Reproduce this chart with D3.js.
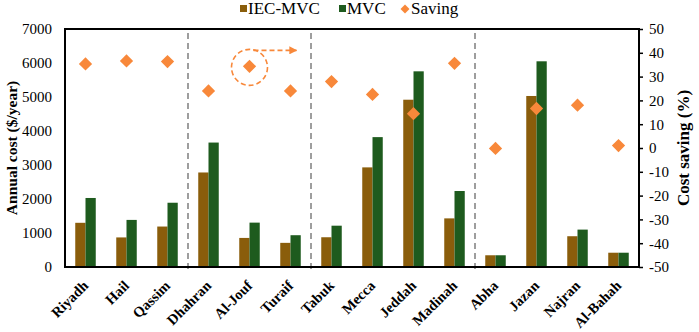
<!DOCTYPE html>
<html>
<head>
<meta charset="utf-8">
<script src="https://cdn.jsdelivr.net/npm/d3@7"></script>
<style>
  body { margin: 0; background: #fff; }
</style>
</head>
<body>
<div id="chart"></div>
<script>
// city names on x axis
const cities = ["Riyadh", "Hail", "Qassim", "Dhahran", "Al-Jouf", "Turaif", "Tabuk",
  "Mecca", "Jeddah", "Madinah", "Abha", "Jazan", "Najran", "Al-Bahah"];
// annual cost ($/year)
const iecMvc = [1300, 870, 1190, 2780, 855, 710, 875, 2930, 4920, 1430, 345, 5030, 905, 420];
const mvc = [2030, 1385, 1890, 3660, 1305, 935, 1215, 3820, 5755, 2235, 345, 6050, 1100, 420];
// cost saving (%)
const saving = [35.3, 36.6, 36.3, 24, 34.3, 24, 27.9, 22.5, 14.4, 35.6, -0.2, 16.6, 18, 1];
// region separators (after these cities)
const groupEnds = ["Qassim", "Turaif", "Madinah"];
const leftTicks = [0, 1000, 2000, 3000, 4000, 5000, 6000, 7000];
const rightTicks = [-50, -40, -30, -20, -10, 0, 10, 20, 30, 40, 50];

const width = 699, height = 332;
const margin = { top: 29, right: 60, bottom: 65, left: 65 };

const brown = "#8a5d0b", green = "#1e5b1e", orange = "#f8883a";
const serif = "'Liberation Serif', 'Times New Roman', serif";

const svg = d3.select("#chart").append("svg")
  .attr("width", width)
  .attr("height", height);

const x = d3.scaleBand()
  .domain(cities)
  .range([margin.left, width - margin.right]);

const y = d3.scaleLinear()
  .domain([0, 7000])
  .range([height - margin.bottom, margin.top]);

const y2 = d3.scaleLinear()
  .domain([-50, 50])
  .range([height - margin.bottom, margin.top]);

const barW = x.bandwidth() * 0.25;

// bars
svg.append("g").selectAll("rect")
  .data(cities)
  .enter().append("rect")
  .attr("x", (d, i) => x(d) + x.bandwidth() / 2 - barW)
  .attr("y", (d, i) => y(iecMvc[i]))
  .attr("width", barW)
  .attr("height", (d, i) => y(0) - y(iecMvc[i]))
  .attr("fill", brown);

svg.append("g").selectAll("rect")
  .data(cities)
  .enter().append("rect")
  .attr("x", (d, i) => x(d) + x.bandwidth() / 2)
  .attr("y", (d, i) => y(mvc[i]))
  .attr("width", barW)
  .attr("height", (d, i) => y(0) - y(mvc[i]))
  .attr("fill", green);

// dashed separators
svg.append("g").selectAll("line")
  .data(groupEnds)
  .enter().append("line")
  .attr("x1", d => x(d) + x.bandwidth())
  .attr("x2", d => x(d) + x.bandwidth())
  .attr("y1", margin.top + 4)
  .attr("y2", height - margin.bottom + 5)
  .attr("stroke", "#7f7f7f")
  .attr("stroke-width", 1.5)
  .attr("stroke-dasharray", "6,4");

// saving diamonds
const diamond = d3.symbol().type(d3.symbolSquare).size(88);
svg.append("g").selectAll("path")
  .data(cities)
  .enter().append("path")
  .attr("d", diamond)
  .attr("transform", (d, i) => `translate(${x(d) + x.bandwidth() / 2}, ${y2(saving[i])}) rotate(45)`)
  .attr("fill", orange);

// highlight circle + arrow around Al-Jouf
const jx = x("Al-Jouf") + x.bandwidth() / 2;
const jy = y2(saving[cities.indexOf("Al-Jouf")]);
const defs = svg.append("defs");
defs.append("marker")
  .attr("id", "arrow")
  .attr("viewBox", "0 0 10 10")
  .attr("refX", 9).attr("refY", 5)
  .attr("markerWidth", 5).attr("markerHeight", 5)
  .attr("orient", "auto")
  .append("path")
  .attr("d", "M0,0 L10,5 L0,10 Z")
  .attr("fill", orange);

svg.append("circle")
  .attr("cx", jx)
  .attr("cy", jy + 1)
  .attr("r", 18)
  .attr("fill", "none")
  .attr("stroke", orange)
  .attr("stroke-width", 1.6)
  .attr("stroke-dasharray", "5,3");

svg.append("line")
  .attr("x1", jx + 4)
  .attr("x2", jx + 47)
  .attr("y1", jy - 16)
  .attr("y2", jy - 16)
  .attr("stroke", orange)
  .attr("stroke-width", 1.6)
  .attr("stroke-dasharray", "5,3")
  .attr("marker-end", "url(#arrow)");

// frame
svg.append("rect")
  .attr("x", margin.left)
  .attr("y", margin.top)
  .attr("width", width - margin.left - margin.right)
  .attr("height", height - margin.top - margin.bottom)
  .attr("fill", "none")
  .attr("stroke", "#000")
  .attr("stroke-width", 2);

// left axis
const yAxis = svg.append("g")
  .attr("transform", `translate(${margin.left},0)`)
  .call(d3.axisLeft(y).tickValues(leftTicks).tickFormat(d => String(d)).tickSize(0).tickPadding(13));
yAxis.select(".domain").remove();
yAxis.selectAll("text").style("font-family", serif).style("font-size", "15px").attr("fill", "#000");

// right axis
const y2Axis = svg.append("g")
  .attr("transform", `translate(${width - margin.right},0)`)
  .call(d3.axisRight(y2).tickValues(rightTicks).tickFormat(d => String(d)).tickSize(4).tickPadding(6));
y2Axis.select(".domain").remove();
y2Axis.selectAll("line").attr("stroke-width", 1.5);
y2Axis.selectAll("text").style("font-family", serif).style("font-size", "15px").attr("fill", "#000");

// x labels
svg.append("g").selectAll("text")
  .data(cities)
  .enter().append("text")
  .attr("transform", d => `translate(${x(d) + x.bandwidth() / 2}, ${height - margin.bottom + 16}) rotate(-45)`)
  .attr("text-anchor", "end")
  .attr("dy", "0.35em")
  .style("font-family", serif)
  .style("font-size", "14.5px")
  .style("font-weight", "bold")
  .text(d => d);

// axis titles
svg.append("text")
  .attr("transform", `translate(17, ${(margin.top + height - margin.bottom) / 2}) rotate(-90)`)
  .attr("text-anchor", "middle")
  .style("font-family", serif)
  .style("font-size", "15.5px")
  .style("font-weight", "bold")
  .text("Annual cost ($/year)");

svg.append("text")
  .attr("transform", `translate(689, ${(margin.top + height - margin.bottom) / 2}) rotate(-90)`)
  .attr("text-anchor", "middle")
  .style("font-family", serif)
  .style("font-size", "17px")
  .style("font-weight", "bold")
  .text("Cost saving (%)");

// legend
const legend = svg.append("g");
const lg1 = legend.append("g").attr("transform", "translate(240, 9)");
lg1.append("rect").attr("x", 0).attr("y", -4).attr("width", 7).attr("height", 7).attr("fill", brown);
lg1.append("text").attr("x", 8).attr("y", 0).attr("dy", "0.32em").text("IEC-MVC");

const lg2 = legend.append("g").attr("transform", "translate(339, 9)");
lg2.append("rect").attr("x", 0).attr("y", -4).attr("width", 7).attr("height", 7).attr("fill", green);
lg2.append("text").attr("x", 8).attr("y", 0).attr("dy", "0.32em").text("MVC");

const lg3 = legend.append("g").attr("transform", "translate(405, 9)");
lg3.append("path").attr("d", d3.symbol().type(d3.symbolSquare).size(40)).attr("transform", "rotate(45)").attr("fill", orange);
lg3.append("text").attr("x", 6).attr("y", 0).attr("dy", "0.32em").text("Saving");

legend.selectAll("text").style("font-family", serif).style("font-size", "17px");
</script>
</body>
</html>
